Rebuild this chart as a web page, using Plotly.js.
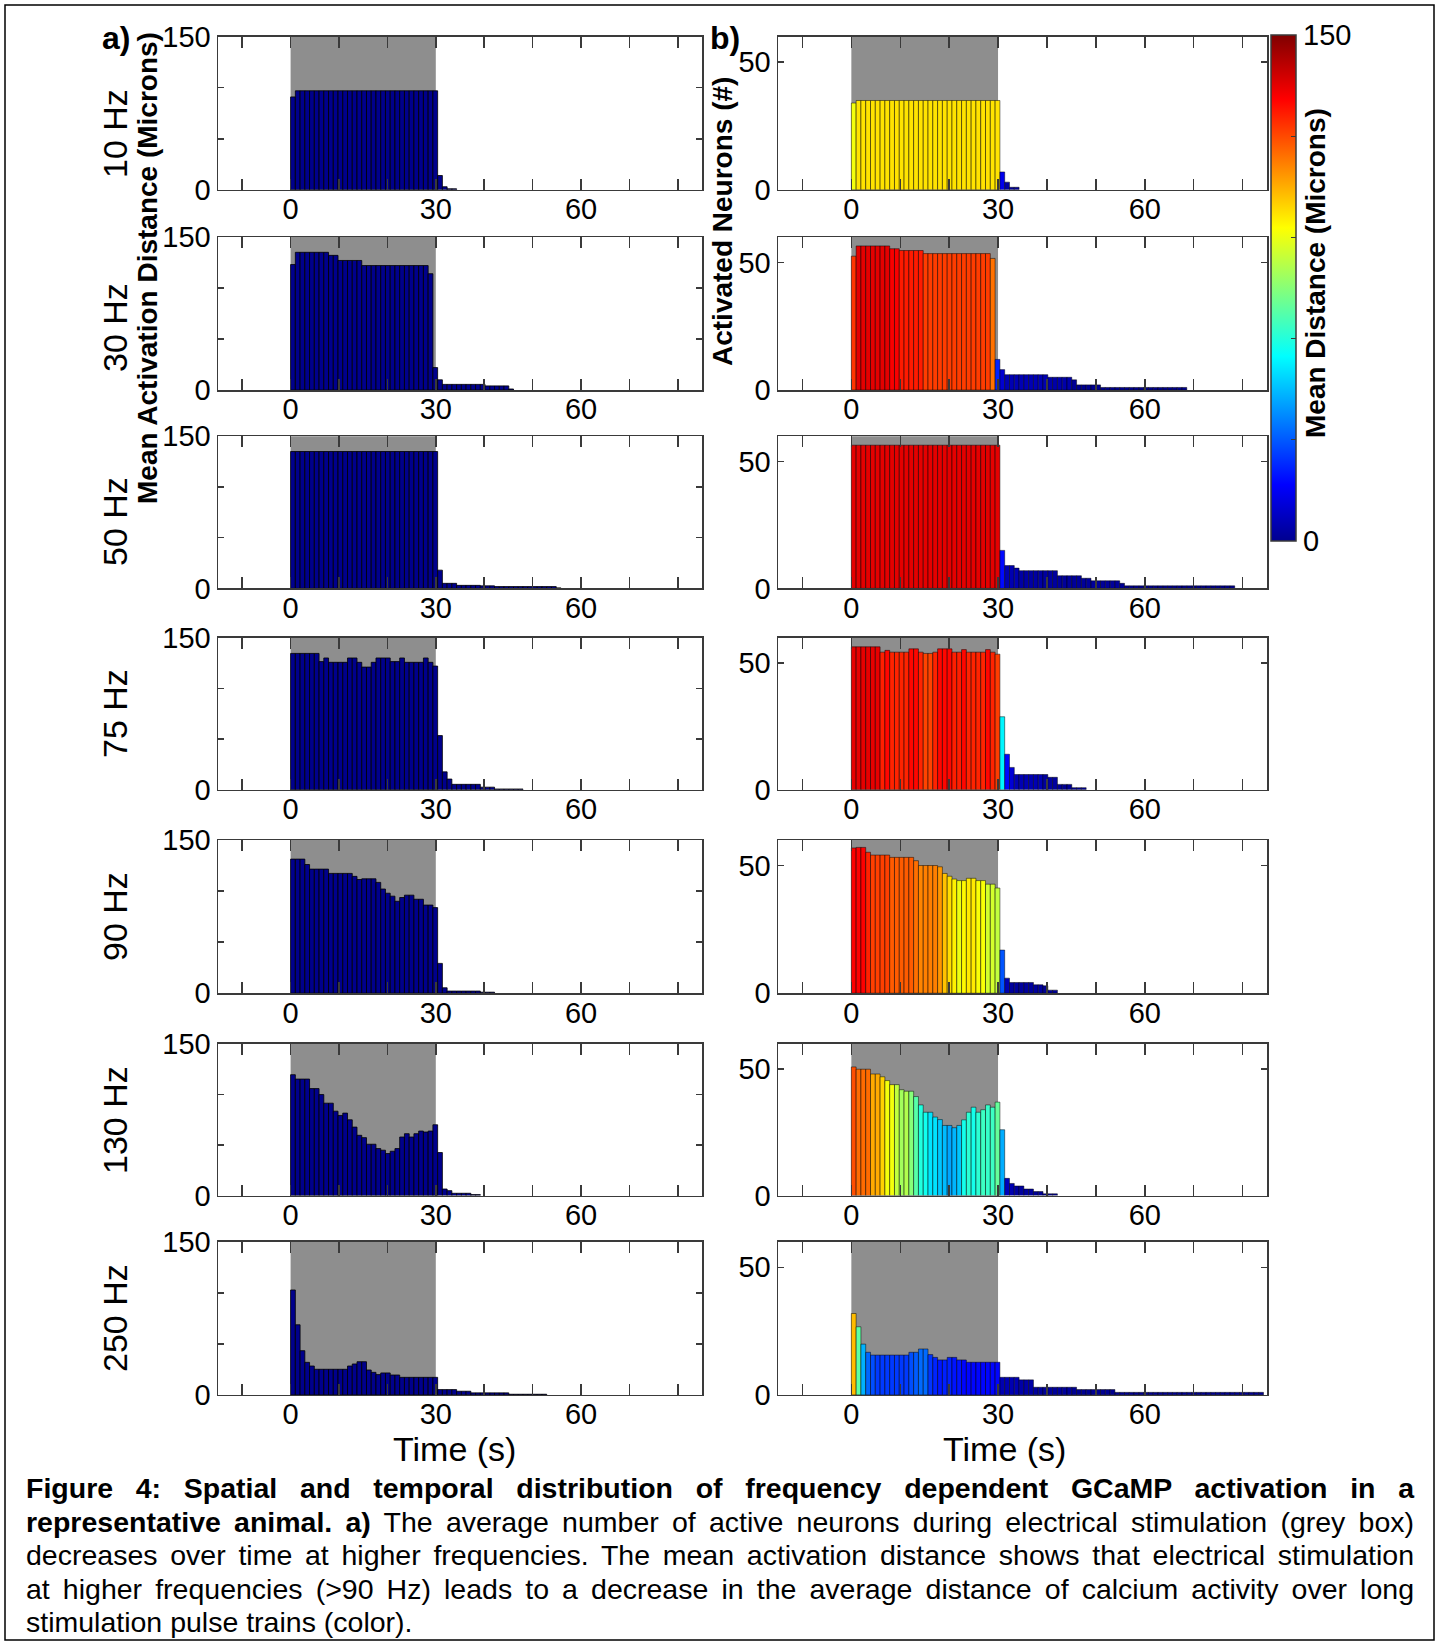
<!DOCTYPE html>
<html>
<head>
<meta charset="utf-8">
<script src="https://cdn.plot.ly/plotly-3.0.1.min.js"></script>
<style>
  body { margin: 0; background: #fff; }
  #wrap { position: relative; width: 1439px; height: 1644px; }
  #plot { position: absolute; left: 0; top: 0; width: 1439px; height: 1644px; }
  #cap { position: absolute; left: 26px; top: 1472px; width: 1388px;
         font-family: Arial, "Liberation Sans", sans-serif; font-size: 28.5px;
         line-height: 33.6px; color: #000; }
  #cap .j { text-align: justify; text-align-last: justify; }
</style>
</head>
<body>
<div id="wrap">
<div id="plot"></div>
<div id="cap">
<div class="j"><b>Figure 4: Spatial and temporal distribution of frequency dependent GCaMP activation in a</b></div>
<div class="j"><b>representative animal. a)</b> The average number of active neurons during electrical stimulation (grey box)</div>
<div class="j">decreases over time at higher frequencies. The mean activation distance shows that electrical stimulation</div>
<div class="j">at higher frequencies (&gt;90 Hz) leads to a decrease in the average distance of calcium activity over long</div>
<div>stimulation pulse trains (color).</div>
</div>
</div>
<script>
// ---------------- DATA ----------------
const freqLabels = ['10 Hz', '30 Hz', '50 Hz', '75 Hz', '90 Hz', '130 Hz', '250 Hz'];
const binSec = 0.98;          // time bin width (s)
const stimStart = 0, stimEnd = 30;   // stimulation window (s)

// Mean activation distance (microns) per time bin
const dist10 = [91,
  97,97,97,97,97,97,97,97,97,97, 97,97,97,97,97,97,97,97,97,97, 97,97,97,97,97,97,97,97,97,97,
  14,3,1,1];
const dist30 = [123, 135,135,135,135,135,135,135, 132,132, 127,127,127,127,127,
  122,122,122,122,122,122,122,122,122,122,122,122,122,122, 114,
  22, 10, 5.5,5.5,5.5,5.5,5.5,5.5,5.5,5.5,5.5, 4,4,4,4,4, 1];
const dist50 = [135,135,135,135,135,135,135,135,135,135, 135,135,135,135,135,135,135,135,135,135,
  135,135,135,135,135,135,135,135,135,135, 135,
  18, 5,5,5, 3,3,3,3,3, 2.5,2.5,2.5, 1.8,1.8,1.8,1.8,1.8,1.8,1.8,1.8,1.8,1.8,1.8,1.8,1.8, 0.5];
const dist75 = [134.5,134.5,134.5,134.5,134.5,134.5, 126.4, 130, 125.7,125.7,125.7,125.7, 130,130,
  125.7, 121,121, 125.7, 130,130,130, 126.4,126.4, 130, 125.7,125.7,125.7,125.7, 130, 125.7, 122,
  53.4, 17.6, 10.5, 5.3,5.3,5.3,5.3,5.3,5.3, 2.5,2.5,2.5, 0.7,0.7,0.7,0.7,0.7,0.7];
const dist90 = [131.3,131.3,131.3, 126, 121.5,121.5,121.5,121.5, 117.3,117.3,117.3,117.3,117.3,
  114.4, 111.3, 112,112,112, 108.5, 102, 97.9, 95, 90, 93.7, 96,96, 92,92, 86.3,86.3, 83.8,
  29.2, 5.3, 2.1,2.1,2.1,2.1,2.1,2.1,2.1, 1,1,1];
const dist130 = [119.3, 115,115,115, 105.6,105.6, 99.7, 91.2,91.2, 83.3, 79.1, 81.4, 74.8, 67.6,
  59.5, 57.2, 50.7,50.7, 46.4, 44.8, 41.5, 43.8, 46.4, 57.8, 61.1, 57.8, 61.1, 63.7, 62.7, 63.7, 69.9,
  42.5, 6.5, 4.9, 2.3,2.3,2.3,2.3, 1,1];
const dist250 = [102.8, 68.7, 43.3, 31.9, 28.3, 25.1,25.1,25.1,25.1,25.1,25.1,25.1, 28.3, 30.3,
  32.5,32.5, 24.4, 22.1, 19.9, 21.5,21.5, 19.5,19.5, 17.2,17.2,17.2,17.2,17.2,17.2,17.2,17.2,
  5.2,5.2,5.2,5.2, 3.6,3.6,3.6, 2,2,2,2,2,2,2,2, 0.65,0.65,0.65,0.65,0.65,0.65,0.65,0.65];

// Activated neurons (#) per time bin
const count10 = [34,
  35,35,35,35,35,35,35,35,35,35, 35,35,35,35,35,35,35,35,35,35, 35,35,35,35,35,35,35,35,35,35,
  7,3,1,1];
const count30 = [52.5, 56.5,56.5,56.5,56.5,56.5,56.5,56.5, 55.4,55.4, 54.7,54.7,54.7,54.7,54.7,
  53.5,53.5,53.5,53.5,53.5,53.5,53.5,53.5,53.5,53.5,53.5,53.5,53.5,53.5, 51.6,
  12, 8, 6,6,6,6,6,6,6,6,6, 5,5,5,5,5, 4, 2,2,2,2,2,
  1,1,1,1,1,1,1,1,1,1,1,1,1,1,1,1,1,1];
const count50 = [56.5,56.5,56.5,56.5,56.5,56.5,56.5,56.5,56.5,56.5, 56.5,56.5,56.5,56.5,56.5,56.5,56.5,56.5,56.5,56.5,
  56.5,56.5,56.5,56.5,56.5,56.5,56.5,56.5,56.5,56.5, 56.5,
  15, 9,9, 8, 7,7,7,7,7,7,7,7, 5,5,5,5,5, 4,4, 3,3,3,3,3,3, 2,
  1,1,1,1,1,1,1,1,1,1,1,1,1,1,1,1,1,1,1,1,1,1,1];
const count75 = [56.4,56.4,56.4,56.4,56.4,56.4, 54.3, 55, 54.3,54.3,54.3,54.3, 55.6,55.6, 54.3,
  53.8,53.8, 54.3, 55.6,55.6,55.6, 54.3,54.3, 55.3, 54.3,54.3,54.3,54.3, 55.3, 54.3, 53.5,
  28.8, 14, 8.8, 6,6,6,6,6,6,6, 4.9,4.9, 2.1,2.1,2.1, 0.8,0.8,0.8];
const count90 = [56.9, 57.1,57.1, 55.2, 54.1,54.1,54.1,54.1, 53.2,53.2,53.2,53.2,53.2, 51.9,
  50,50,50,50, 49.5, 46.9, 45.8, 44.7, 44.1,44.1, 45,45, 44.1,44.1, 42.7,42.7, 41.2,
  16.9, 5.9, 4.2,4.2,4.2,4.2,4.2, 3.3,3.3, 2.9, 1.2,1.2];
const count130 = [50.8, 49.9,49.9,49.9, 48,48, 46.9, 45.4, 43.8,43.8, 41.8, 41.2,41.2, 39.1, 35.8,
  32.9,32.9, 31, 30, 27.7,27.7, 26.8, 27.7, 29.9, 32.9, 34.9, 32.9, 33.9, 35.8, 34.9, 36.9,
  26, 6.8, 4.8, 3.8,3.8, 2.6,2.6, 1.6,1.6, 0.7,0.7,0.7];
const count250 = [31.9, 26.7, 19.9, 16.7, 15.6,15.6,15.6,15.6,15.6,15.6,15.6,15.6, 16.7,16.7,
  18,18, 15.8, 14.7, 13.7,13.7, 14.7,14.7, 13.7,13.7, 12.8,12.8,12.8,12.8,12.8,12.8,12.8,
  6.9,6.9,6.9,6.9, 5.9,5.9,5.9, 3,3,3,3,3,3,3,3,3, 2.1,2.1,2.1,2.1,2.1,2.1,2.1,2.1,
  1,1,1,1,1,1,1,1,1,1, 1,1,1,1,1,1,1,1,1,1, 1,1,1,1,1,1,1,1,1,1, 1];

const xTickVals = [-10, 0, 10, 20, 30, 40, 50, 60, 70, 80];
const xTickText = ['', '0', '', '', '30', '', '', '60', '', ''];
const leftTickVals = [0, 50, 100, 150];
const leftTickText = ['0', '', '', '150'];
const rightTickVals = [0, 50];
const rightTickText = ['0', '50'];
const cbTickVals = [0, 30, 60, 90, 120, 150];
const cbTickText = ['0', '', '', '', '', '150'];

const dists = [dist10, dist30, dist50, dist75, dist90, dist130, dist250];
const counts = [count10, count30, count50, count75, count90, count130, count250];

// ---------------- LAYOUT GEOMETRY (pixels) ----------------
const W = 1439, H = 1644;
const leftX = [218, 702], rightX = [778, 1267];
const rowTop = [36.7, 237, 436.3, 637.7, 840, 1043.6, 1241.8];
const rowBot = [189.8, 390, 588.4, 789.7, 993.2, 1195.6, 1394.9];
const rowLabelY = [134, 328, 522, 714, 917, 1120, 1318];
const FONT = 'Arial, "Liberation Sans", sans-serif';
const AXC = '#3a3a3a';

const jet = [[0, 'rgb(0,0,143)'], [0.111, 'rgb(0,0,255)'], [0.365, 'rgb(0,255,255)'],
             [0.619, 'rgb(255,255,0)'], [0.873, 'rgb(255,0,0)'], [1, 'rgb(128,0,0)']];

const px = v => v / W;
const py = v => 1 - v / H;

const traces = [];
const layout = {
  width: W, height: H, autosize: false,
  margin: {l: 0, r: 0, t: 0, b: 0, pad: 0},
  paper_bgcolor: '#fff', plot_bgcolor: '#fff',
  showlegend: false, bargap: 0, barmode: 'overlay',
  font: {family: FONT, color: '#000'},
  shapes: [], annotations: []
};

function xAxis(dom, anchor) {
  return {domain: dom, anchor: anchor, range: [-15, 85], fixedrange: true,
    tickmode: 'array', tickvals: xTickVals, ticktext: xTickText,
    ticks: 'inside', ticklen: 11, tickwidth: 1.5, tickcolor: AXC,
    showline: true, linecolor: AXC, linewidth: 1.5, mirror: 'ticks',
    ticklabelstandoff: -7,
    showgrid: false, zeroline: false, tickfont: {size: 29, family: FONT, color: '#000'}};
}
function yAxis(dom, anchor, rng, tv, tt) {
  return {domain: dom, anchor: anchor, range: rng, fixedrange: true,
    tickmode: 'array', tickvals: tv, ticktext: tt,
    ticks: 'inside', ticklen: 6, tickwidth: 1.5, tickcolor: AXC,
    showline: true, linecolor: AXC, linewidth: 1.5, mirror: 'ticks',
    showgrid: false, zeroline: false, tickfont: {size: 29, family: FONT, color: '#000'}};
}

for (let r = 0; r < 7; r++) {
  const yDom = [py(rowBot[r]), py(rowTop[r])];
  const iL = 2 * r + 1, iR = 2 * r + 2;
  const sL = iL === 1 ? '' : String(iL), sR = String(iR);
  layout['xaxis' + sL] = xAxis([px(leftX[0]), px(leftX[1])], 'y' + sL);
  layout['yaxis' + sL] = yAxis(yDom, 'x' + sL, [0, 150], leftTickVals, leftTickText);
  layout['xaxis' + sR] = xAxis([px(rightX[0]), px(rightX[1])], 'y' + sR);
  layout['yaxis' + sR] = yAxis(yDom, 'x' + sR, [0, 60], rightTickVals, rightTickText);

  // grey stimulation box
  [sL, sR].forEach(s => {
    layout.shapes.push({type: 'rect', layer: 'below', xref: 'x' + s, yref: 'y' + s + ' domain',
      x0: stimStart, x1: stimEnd, y0: 0, y1: 1, fillcolor: 'rgb(142,142,142)', line: {width: 0}});
  });

  traces.push({type: 'bar', x0: binSec / 2, dx: binSec, width: binSec, y: dists[r],
    xaxis: 'x' + sL, yaxis: 'y' + sL, hoverinfo: 'skip',
    marker: {color: 'rgb(0,0,140)', line: {color: '#000', width: 0.8}}});

  const colorVals = counts[r].map((_, i) => (i < dists[r].length ? dists[r][i] : 0));
  const mk = {color: colorVals, colorscale: jet, cmin: 0, cmax: 150, showscale: r === 0,
    line: {color: 'rgba(0,0,0,0.6)', width: 0.8}};
  if (r === 0) {
    mk.colorbar = {x: px(1271), xanchor: 'left', xref: 'paper', y: py(35), yanchor: 'top', yref: 'paper',
      len: (541 - 35) / H, lenmode: 'fraction', thickness: 25, thicknessmode: 'pixels',
      xpad: 0, ypad: 0, outlinewidth: 1.5, outlinecolor: AXC,
      tickmode: 'array', tickvals: cbTickVals, ticktext: cbTickText,
      ticks: 'inside', ticklen: 5, tickcolor: AXC, tickwidth: 1,
      tickfont: {size: 29, family: FONT, color: '#000'}, title: {text: ''}};
  }
  traces.push({type: 'bar', x0: binSec / 2, dx: binSec, width: binSec, y: counts[r],
    xaxis: 'x' + sR, yaxis: 'y' + sR, hoverinfo: 'skip', marker: mk});

  layout.annotations.push({text: freqLabels[r], xref: 'paper', yref: 'paper',
    x: px(115), y: py(rowLabelY[r]), xanchor: 'center', yanchor: 'middle', textangle: -90,
    showarrow: false, font: {size: 34, family: FONT, color: '#000'}});
}

function ann(text, x, y, size, angle) {
  layout.annotations.push({text: text, xref: 'paper', yref: 'paper', x: px(x), y: py(y),
    xanchor: 'center', yanchor: 'middle', textangle: angle || 0, showarrow: false,
    font: {size: size, family: FONT, color: '#000'}});
}
ann('<b>Mean Activation Distance (Microns)</b>', 147, 268, 28, -90);
ann('<b>Activated Neurons (#)</b>', 722, 222, 28, -90);
ann('<b>Mean Distance (Microns)</b>', 1315, 273, 28, -90);
ann('<b>a)</b>', 116, 38, 32);
ann('<b>b)</b>', 725, 38, 32);
ann('Time (s)', 454, 1449, 34);
ann('Time (s)', 1004, 1449, 34);

// outer figure border
layout.shapes.push({type: 'rect', xref: 'paper', yref: 'paper', x0: px(5), x1: px(1434),
  y0: py(1640), y1: py(5), line: {color: '#000', width: 1.5}, fillcolor: 'rgba(0,0,0,0)', layer: 'above'});

Plotly.newPlot('plot', traces, layout, {displayModeBar: false, staticPlot: true});
</script>
</body>
</html>
